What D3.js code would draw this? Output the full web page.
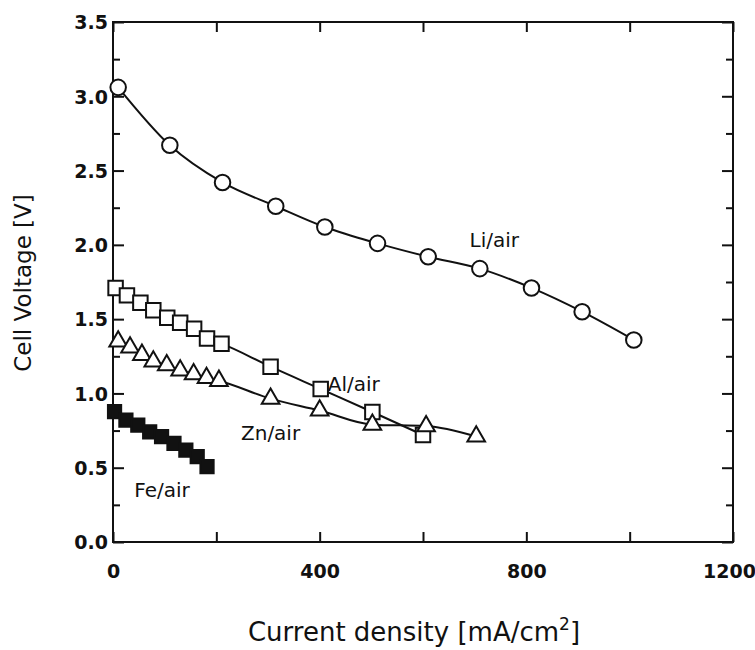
<!DOCTYPE html>
<html><head><meta charset="utf-8">
<script src="https://cdn.jsdelivr.net/npm/d3@7"></script>
<style>
html,body{margin:0;padding:0;background:#fff;}
svg text{font-family:"DejaVu Sans",sans-serif;fill:#111;}
</style></head>
<body>
<svg id="chart" width="755" height="650"></svg>
<script>
// ---- data ----
const liCurrent = [10, 110, 212, 315, 410, 512, 610, 710, 810, 908, 1008];
const liVoltage = [3.06, 2.67, 2.42, 2.26, 2.12, 2.01, 1.92, 1.84, 1.71, 1.55, 1.36];

const alCurrent = [5, 27, 53, 78, 105, 130, 157, 182, 210, 305, 402, 502, 600];
const alVoltage = [1.71, 1.66, 1.61, 1.56, 1.51, 1.475, 1.435, 1.37, 1.335, 1.18, 1.03, 0.875, 0.72];

const znCurrent = [10, 33, 56, 78, 104, 130, 156, 181, 205, 305, 400, 502, 606, 703];
const znVoltage = [1.35, 1.31, 1.26, 1.215, 1.19, 1.155, 1.13, 1.105, 1.085, 0.965, 0.885, 0.79, 0.78, 0.71];

const feCurrent = [3, 25, 48, 71, 94, 118, 141, 163, 182];
const feVoltage = [0.877, 0.82, 0.787, 0.742, 0.709, 0.664, 0.619, 0.574, 0.507];

const xTickLabels = [0, 400, 800, 1200];
const yTickLabels = [0.0, 0.5, 1.0, 1.5, 2.0, 2.5, 3.0, 3.5];
const seriesNames = ["Li/air", "Al/air", "Zn/air", "Fe/air"];

// ---- layout ----
const L = 113, R = 733, T = 22, B = 542;
const svg = d3.select("#chart");
const x = d3.scaleLinear().domain([0, 1200]).range([L, R]);
const y = d3.scaleLinear().domain([0, 3.5]).range([B, T]);
const ink = "#111";

const g = svg.append("g");

// frame
g.append("rect").attr("x", L).attr("y", T).attr("width", R - L).attr("height", B - T)
  .attr("fill", "none").attr("stroke", ink).attr("stroke-width", 2);

// ticks (inward) via axes
const yMinor = d3.range(0, 3.5001, 0.25).filter(v => Math.abs(v*2 - Math.round(v*2)) > 1e-6);
const xMinor = d3.range(0, 1200.1, 200);
function styleAxis(sel){ sel.select(".domain").remove(); sel.selectAll("line").attr("stroke", ink).attr("stroke-width", 2); sel.selectAll("text").remove(); }

g.append("g").attr("transform", `translate(${L},0)`)
  .call(d3.axisRight(y).tickValues(yMinor).tickSize(7)).call(styleAxis);
g.append("g").attr("transform", `translate(${L},0)`)
  .call(d3.axisRight(y).tickValues(yTickLabels).tickSize(11)).call(styleAxis);
g.append("g").attr("transform", `translate(${R},0)`)
  .call(d3.axisLeft(y).tickValues(yMinor).tickSize(7)).call(styleAxis);
g.append("g").attr("transform", `translate(${R},0)`)
  .call(d3.axisLeft(y).tickValues(yTickLabels).tickSize(11)).call(styleAxis);
g.append("g").attr("transform", `translate(0,${B})`)
  .call(d3.axisTop(x).tickValues(xMinor).tickSize(10)).call(styleAxis);
g.append("g").attr("transform", `translate(0,${T})`)
  .call(d3.axisBottom(x).tickValues(xMinor).tickSize(10)).call(styleAxis);

// tick labels
const tickFont = "Liberation Sans";
const yl = g.append("g").attr("transform", `translate(${L - 5},0)`)
  .call(d3.axisLeft(y).tickValues(yTickLabels).tickSize(0).tickPadding(0).tickFormat(d3.format(".1f")));
yl.select(".domain").remove();
yl.selectAll("text").attr("font-size", 19).attr("font-weight", "bold").attr("font-family", tickFont).attr("fill", ink).attr("dy", "0.36em");

const xl = g.append("g").attr("transform", `translate(0,${B + 22})`)
  .call(d3.axisBottom(x).tickValues(xTickLabels).tickSize(0).tickPadding(0).tickFormat(d3.format("d")));
xl.select(".domain").remove();
xl.selectAll("text").attr("font-size", 19).attr("font-weight", "bold").attr("font-family", tickFont).attr("fill", ink).attr("dy", "0.71em")
  .attr("dx", d => d === 1200 ? -4 : 0);

// axis titles
svg.append("text").attr("transform", `translate(31,283) rotate(-90)`)
  .attr("text-anchor", "middle").attr("font-size", 23).text("Cell Voltage [V]");
const xt = svg.append("text").attr("x", 414).attr("y", 641).attr("text-anchor", "middle").attr("font-size", 26);
xt.append("tspan").text("Current density [mA/cm");
xt.append("tspan").attr("font-size", 17).attr("dy", -11).text("2");
xt.append("tspan").attr("dy", 11).text("]");

// series
const zip = (a, b) => a.map((v, i) => [v, b[i]]);
const series = [
  {name: seriesNames[0], pts: zip(liCurrent, liVoltage), sym: d3.symbolCircle, size: 190, fill: "#fff"},
  {name: seriesNames[1], pts: zip(alCurrent, alVoltage), sym: d3.symbolSquare, size: 210, fill: "#fff"},
  {name: seriesNames[2], pts: zip(znCurrent, znVoltage), sym: d3.symbolTriangle, size: 135, fill: "#fff"},
  {name: seriesNames[3], pts: zip(feCurrent, feVoltage), sym: d3.symbolSquare, size: 175, fill: ink}
];
const line = d3.line().x(d => x(d[0])).y(d => y(d[1])).curve(d3.curveMonotoneX);
series.forEach(s => {
  g.append("path").datum(s.pts).attr("d", line).attr("fill", "none").attr("stroke", ink).attr("stroke-width", 2);
});
series.forEach(s => {
  g.append("g").selectAll("path").data(s.pts).join("path")
    .attr("transform", d => `translate(${x(d[0])},${y(d[1])})`)
    .attr("d", d3.symbol().type(s.sym).size(s.size))
    .attr("fill", s.fill).attr("stroke", ink).attr("stroke-width", 2);
});

// series labels
const labelPos = [[738, 1.985], [466, 1.016], [305, 0.686], [95, 0.30]];
seriesNames.forEach((n, i) => {
  svg.append("text").attr("x", x(labelPos[i][0])).attr("y", y(labelPos[i][1]))
    .attr("text-anchor", "middle").attr("font-size", 20).text(n);
});
</script>
</body></html>
